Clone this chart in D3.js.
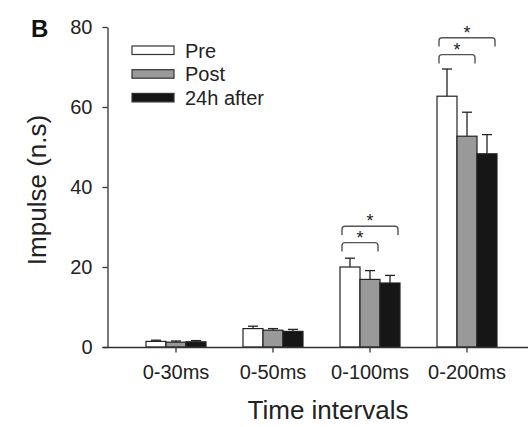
<!DOCTYPE html>
<html>
<head>
<meta charset="utf-8">
<script src="https://cdn.jsdelivr.net/npm/d3@7"></script>
<style>
  body { margin: 0; background: #fff; }
  text { font-family: "Liberation Sans", Arial, sans-serif; fill: #222; }
</style>
</head>
<body>
<svg id="chart" width="528" height="427"></svg>
<script>
// data
const intervals = ['0-30ms', '0-50ms', '0-100ms', '0-200ms'];
const series = ['Pre', 'Post', '24h after'];
const preMean = [1.4, 4.6, 20.0, 62.7];
const postMean = [1.2, 4.2, 16.9, 52.7];
const afterMean = [1.3, 3.9, 16.0, 48.3];
const preErr = [0.3, 0.6, 2.2, 6.8];
const postErr = [0.3, 0.4, 2.2, 6.0];
const afterErr = [0.3, 0.5, 1.9, 4.8];
const yTicks = [0, 20, 40, 60, 80];
// significance brackets: interval, from series, to series, level (n.s)
const sigBrackets = [
  ['0-100ms', 'Pre', 'Post', 26.1],
  ['0-100ms', 'Pre', '24h after', 30.2],
  ['0-200ms', 'Pre', 'Post', 73.1],
  ['0-200ms', 'Pre', '24h after', 77.3]
];

const fills = { 'Pre': '#ffffff', 'Post': '#999999', '24h after': '#161616' };
const means = [preMean, postMean, afterMean];
const errs = [preErr, postErr, afterErr];

const svg = d3.select('#chart');

const x = d3.scaleBand().domain(intervals).range([127.5, 515.5]).padding(0);
const xs = d3.scaleBand().domain(series).range([0, 60]);
const y = d3.scaleLinear().domain([0, 80]).range([347, 27]);
const bandOff = (x.bandwidth() - 60) / 2;

// bars
const rows = [];
intervals.forEach((iv, i) => {
  series.forEach((s, j) => {
    rows.push({ iv, s, v: means[j][i], e: errs[j][i] });
  });
});

const g = svg.append('g');
g.selectAll('rect.bar')
  .data(rows)
  .enter()
  .append('rect')
  .attr('class', 'bar')
  .attr('x', d => x(d.iv) + bandOff + xs(d.s))
  .attr('y', d => y(d.v))
  .attr('width', xs.bandwidth())
  .attr('height', d => y(0) - y(d.v))
  .attr('fill', d => fills[d.s])
  .attr('stroke', '#222')
  .attr('stroke-width', 1.2);

// error bars (upper only)
const cx = d => x(d.iv) + bandOff + xs(d.s) + xs.bandwidth() / 2;
g.selectAll('line.err')
  .data(rows)
  .enter()
  .append('line')
  .attr('x1', cx).attr('x2', cx)
  .attr('y1', d => y(d.v)).attr('y2', d => y(d.v + d.e))
  .attr('stroke', '#222').attr('stroke-width', 1.3);
g.selectAll('line.cap')
  .data(rows)
  .enter()
  .append('line')
  .attr('x1', d => cx(d) - 5).attr('x2', d => cx(d) + 5)
  .attr('y1', d => y(d.v + d.e)).attr('y2', d => y(d.v + d.e))
  .attr('stroke', '#222').attr('stroke-width', 1.3);

// brackets with stars
sigBrackets.forEach(b => {
  const x1 = x(b[0]) + bandOff + xs(b[1]) + 2;
  const x2 = x(b[0]) + bandOff + xs(b[2]) + xs.bandwidth() - 2;
  const top = y(b[3]);
  const leg = y(b[3] - 2.2);
  const r = 3;
  svg.append('path')
    .attr('d', `M${x1},${leg} L${x1},${top + r} Q${x1},${top} ${x1 + r},${top} L${x2 - r},${top} Q${x2},${top} ${x2},${top + r} L${x2},${leg}`)
    .attr('fill', 'none')
    .attr('stroke', '#555')
    .attr('stroke-width', 1.4);
  svg.append('text')
    .attr('x', (x1 + x2) / 2)
    .attr('y', top + 1)
    .attr('text-anchor', 'middle')
    .style('font-size', '18px')
    .text('*');
});

// y axis
const yAxis = svg.append('g')
  .attr('transform', 'translate(107.5,0)')
  .call(d3.axisLeft(y).tickValues(yTicks).tickSize(5).tickSizeOuter(0).tickPadding(10));
yAxis.selectAll('text').style('font-size', '20px').attr('fill', '#222');
yAxis.selectAll('line, path').attr('stroke', '#333').attr('stroke-width', 1.3);

// x axis
const xAxis = svg.append('g')
  .attr('transform', 'translate(0,347.5)')
  .call(d3.axisBottom(x).tickSize(5).tickSizeOuter(0).tickPadding(12));
xAxis.select('.domain').remove();
xAxis.selectAll('text').style('font-size', '20px').attr('fill', '#222');
xAxis.selectAll('line').attr('stroke', '#333').attr('stroke-width', 1.3);
svg.append('line')
  .attr('x1', 102.5).attr('x2', 528)
  .attr('y1', 347.5).attr('y2', 347.5)
  .attr('stroke', '#333').attr('stroke-width', 1.3);

// axis titles
svg.append('text')
  .attr('x', 328).attr('y', 419)
  .attr('text-anchor', 'middle')
  .style('font-size', '26px')
  .text('Time intervals');
svg.append('text')
  .attr('transform', 'translate(46,190) rotate(-90)')
  .attr('text-anchor', 'middle')
  .style('font-size', '26px')
  .text('Impulse (n.s)');

// panel letter
svg.append('text')
  .attr('x', 31).attr('y', 37)
  .style('font-size', '24px')
  .style('font-weight', 'bold')
  .style('fill', '#111')
  .text('B');

// legend
const legend = svg.append('g').attr('transform', 'translate(132,46)');
series.forEach((s, i) => {
  legend.append('rect')
    .attr('x', 0).attr('y', i * 23.7)
    .attr('width', 42).attr('height', 8.5)
    .attr('fill', fills[s])
    .attr('stroke', '#333').attr('stroke-width', 1.2);
  legend.append('text')
    .attr('x', 53).attr('y', i * 23.7 + 4.5)
    .attr('dy', '0.35em')
    .style('font-size', '20px')
    .text(s);
});
</script>
</body>
</html>
